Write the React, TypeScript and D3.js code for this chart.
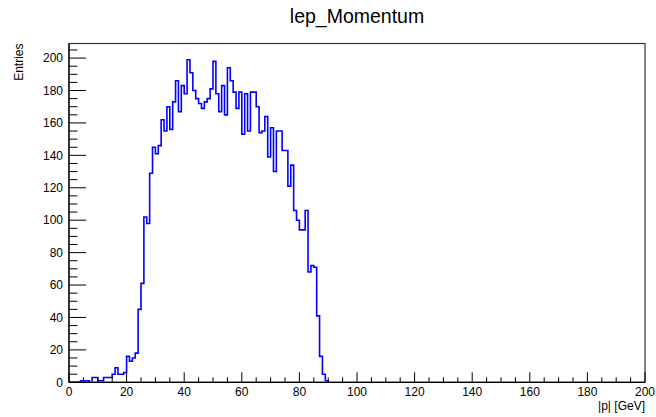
import { useEffect, useRef } from 'react';
import * as d3 from 'd3';

// lep_Momentum histogram, 1 GeV bins starting at 0 (bins above 89 GeV are empty)
const binLow = 0;
const binWidth = 1;
const counts = [
  0, 0, 0, 0, 1, 1, 1, 0, 3, 3,
  1, 1, 3, 3, 3, 5, 9, 5, 5, 6,
  16, 13, 15, 18, 45, 61, 102, 98, 129, 145,
  141, 146, 162, 155, 170, 156, 173, 186, 167, 183,
  178, 199, 191, 180, 175, 172, 169, 173, 175, 181,
  198, 178, 167, 183, 165, 194, 186, 179, 169, 179,
  153, 178, 155, 179, 179, 170, 154, 155, 164, 139,
  157, 130, 155, 155, 143, 143, 121, 134, 106, 100,
  94, 94, 106, 68, 72, 71, 41, 16, 5, 1,
];

const xTicks = [0, 20, 40, 60, 80, 100, 120, 140, 160, 180, 200];
const yTicks = [0, 20, 40, 60, 80, 100, 120, 140, 160, 180, 200];
const xRange = [0, 200];
const yMax = 209;

const W = 656;
const H = 417;

export default function App() {
  const svgRef = useRef<SVGSVGElement>(null);

  useEffect(() => {
    if (!svgRef.current) return;
    const svg = d3.select(svgRef.current);
    svg.selectAll('*').remove();

    const left = 69, right = 645, top = 43.5, bottom = 382.3;
    const font = '"Liberation Sans", Arial, sans-serif';

    const x = d3.scaleLinear().domain(xRange).range([left, right]);
    const y = d3.scaleLinear().domain([0, yMax]).range([bottom, top]);

    svg.append('rect')
      .attr('width', W)
      .attr('height', H)
      .attr('fill', '#fff');

    // histogram as a step line
    const pts: [number, number][] = counts.map((c, i) => [binLow + i * binWidth, c]);
    pts.push([binLow + counts.length * binWidth, counts[counts.length - 1]]);
    pts.push([binLow + counts.length * binWidth, 0]);

    const line = d3.line<[number, number]>()
      .x(d => x(d[0]))
      .y(d => y(d[1]))
      .curve(d3.curveStepAfter);

    svg.append('path')
      .attr('d', line(pts))
      .attr('fill', 'none')
      .attr('stroke', '#0000ff')
      .attr('stroke-width', 1.6);

    // frame
    svg.append('rect')
      .attr('x', left)
      .attr('y', top)
      .attr('width', right - left)
      .attr('height', bottom - top)
      .attr('fill', 'none')
      .attr('stroke', '#333')
      .attr('stroke-width', 1.2);

    const ax = svg.append('g').attr('stroke', '#000').attr('stroke-width', 1);

    // x axis ticks (pointing up into the frame)
    d3.range(xRange[0], xRange[1] + 0.1, 5).forEach(v => {
      const major = v % 20 === 0;
      ax.append('line')
        .attr('x1', x(v)).attr('x2', x(v))
        .attr('y1', bottom).attr('y2', bottom - (major ? 10 : 5));
    });

    // y axis ticks (pointing right into the frame)
    d3.range(0, yMax, 5).forEach(v => {
      const major = v % 20 === 0;
      ax.append('line')
        .attr('x1', left).attr('x2', left + (major ? 17 : 8.5))
        .attr('y1', y(v)).attr('y2', y(v));
    });

    svg.append('line')
      .attr('x1', left).attr('x2', right)
      .attr('y1', bottom).attr('y2', bottom)
      .attr('stroke', '#000').attr('stroke-width', 1.2);
    svg.append('line')
      .attr('x1', left).attr('x2', left)
      .attr('y1', top).attr('y2', bottom)
      .attr('stroke', '#000').attr('stroke-width', 1.2);

    // tick labels
    svg.append('g')
      .selectAll('text')
      .data(xTicks)
      .join('text')
      .attr('x', d => x(d))
      .attr('y', 396)
      .attr('text-anchor', 'middle')
      .style('font-family', font)
      .style('font-size', '12px')
      .text(d => d);

    svg.append('g')
      .selectAll('text')
      .data(yTicks)
      .join('text')
      .attr('x', 63)
      .attr('y', d => y(d) + 4.2)
      .attr('text-anchor', 'end')
      .style('font-family', font)
      .style('font-size', '12px')
      .text(d => d);

    // titles
    svg.append('text')
      .attr('x', (left + right) / 2)
      .attr('y', 23)
      .attr('text-anchor', 'middle')
      .style('font-family', font)
      .style('font-size', '19.5px')
      .text('lep_Momentum');

    svg.append('text')
      .attr('x', right)
      .attr('y', 409.5)
      .attr('text-anchor', 'end')
      .style('font-family', font)
      .style('font-size', '12px')
      .text('|p| [GeV]');

    svg.append('text')
      .attr('transform', `translate(23, ${top}) rotate(-90)`)
      .attr('text-anchor', 'end')
      .style('font-family', font)
      .style('font-size', '12px')
      .text('Entries');
  }, []);

  return (
    <svg
      ref={svgRef}
      width={W}
      height={H}
      style={{ position: 'absolute', left: 0, top: 0, display: 'block' }}
    />
  );
}
